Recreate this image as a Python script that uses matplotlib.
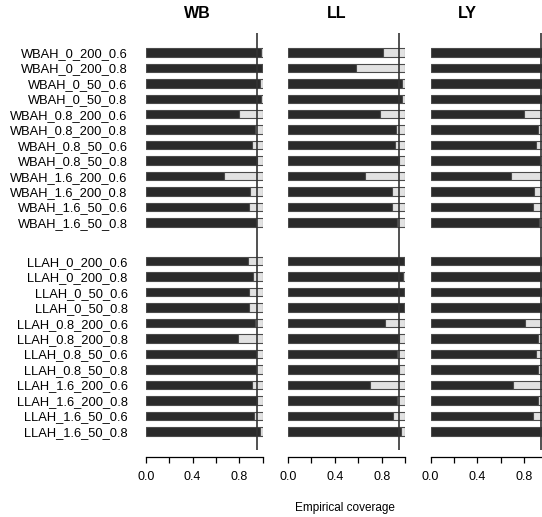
import matplotlib
matplotlib.use("Agg")
import matplotlib.pyplot as plt
import numpy as np

plt.rcParams['font.family'] = ['Liberation Sans', 'DejaVu Sans']

settings = ["0_200_0.6", "0_200_0.8", "0_50_0.6", "0_50_0.8",
            "0.8_200_0.6", "0.8_200_0.8", "0.8_50_0.6", "0.8_50_0.8",
            "1.6_200_0.6", "1.6_200_0.8", "1.6_50_0.6", "1.6_50_0.8"]
labels_wbah = ["WBAH_" + s for s in settings]
labels_llah = ["LLAH_" + s for s in settings]
methods = ["WB", "LL", "LY"]

# empirical coverage per method: WBAH scenarios, then LLAH scenarios
cov_wb = [0.983, 0.99, 0.98, 0.985, 0.80, 0.93, 0.906, 0.954, 0.667, 0.89, 0.883, 0.943,
          0.877, 0.92, 0.883, 0.886, 0.934, 0.786, 0.946, 0.946, 0.912, 0.949, 0.929, 0.977]
cov_ll = [0.807, 0.584, 0.969, 0.972, 0.785, 0.918, 0.909, 0.949, 0.654, 0.884, 0.884, 0.932,
          0.99, 0.983, 0.986, 0.986, 0.827, 0.949, 0.926, 0.949, 0.697, 0.926, 0.892, 0.96]
cov_ly = [0.985, 0.99, 0.985, 0.99, 0.80, 0.923, 0.90, 0.935, 0.688, 0.884, 0.881, 0.929,
          0.99, 0.99, 0.99, 0.99, 0.807, 0.92, 0.90, 0.923, 0.705, 0.92, 0.88, 0.95]
nominal = 0.95

W, H = 542, 517
fig = plt.figure(figsize=(W / 100, H / 100), dpi=100)

ypos = np.concatenate([np.arange(12), 13.5 + np.arange(12)])
all_labels = labels_wbah + labels_llah

dark = "#2a2a2a"
light = "#e2e2e2"
edge = "#4a4a4a"

panel_left = [145.7, 287.7, 430.5]
panel_width = [117.0, 117.6, 116.8]
top_px, bot_px = 33, 450
title_x = [197, 337, 467]

for k, (name, cov) in enumerate(zip(methods, [cov_wb, cov_ll, cov_ly])):
    ax = fig.add_axes([panel_left[k] / W, 1 - bot_px / H,
                       panel_width[k] / W, (bot_px - top_px) / H])
    cov = np.asarray(cov)
    ax.barh(ypos, cov, height=0.55, color=dark, edgecolor=edge, linewidth=0.8)
    ax.barh(ypos, 1 - cov, left=cov, height=0.55, color=light, edgecolor=edge, linewidth=0.8)
    ax.axvline(nominal, color="#333333", linewidth=1.2)
    ax.set_xlim(0, 1)
    ax.set_ylim(25.7, -1.25)
    for side in ["top", "right", "left"]:
        ax.spines[side].set_visible(False)
    ax.spines["bottom"].set_position(("outward", 5))
    ax.spines["bottom"].set_bounds(0, 1)
    ax.spines["bottom"].set_linewidth(0.9)
    ax.set_xticks(np.arange(0, 1.01, 0.2))
    ax.set_xticklabels(["0.0", "", "0.4", "", "0.8", ""], fontsize=9)
    ax.tick_params(axis="x", length=4, width=0.9, pad=6)
    if k == 0:
        ax.set_yticks(ypos)
        ax.set_yticklabels(all_labels, fontsize=9.3)
        ax.tick_params(axis="y", length=0, pad=13)
    else:
        ax.set_yticks([])
    fig.text(title_x[k] / W, 1 - 14 / H, name, ha="center", va="center",
             fontsize=11.5, fontweight="bold")

fig.text(345 / W, 1 - 508 / H, "Empirical coverage", ha="center", va="center", fontsize=8.5)

fig.savefig("out.png", dpi=100)
